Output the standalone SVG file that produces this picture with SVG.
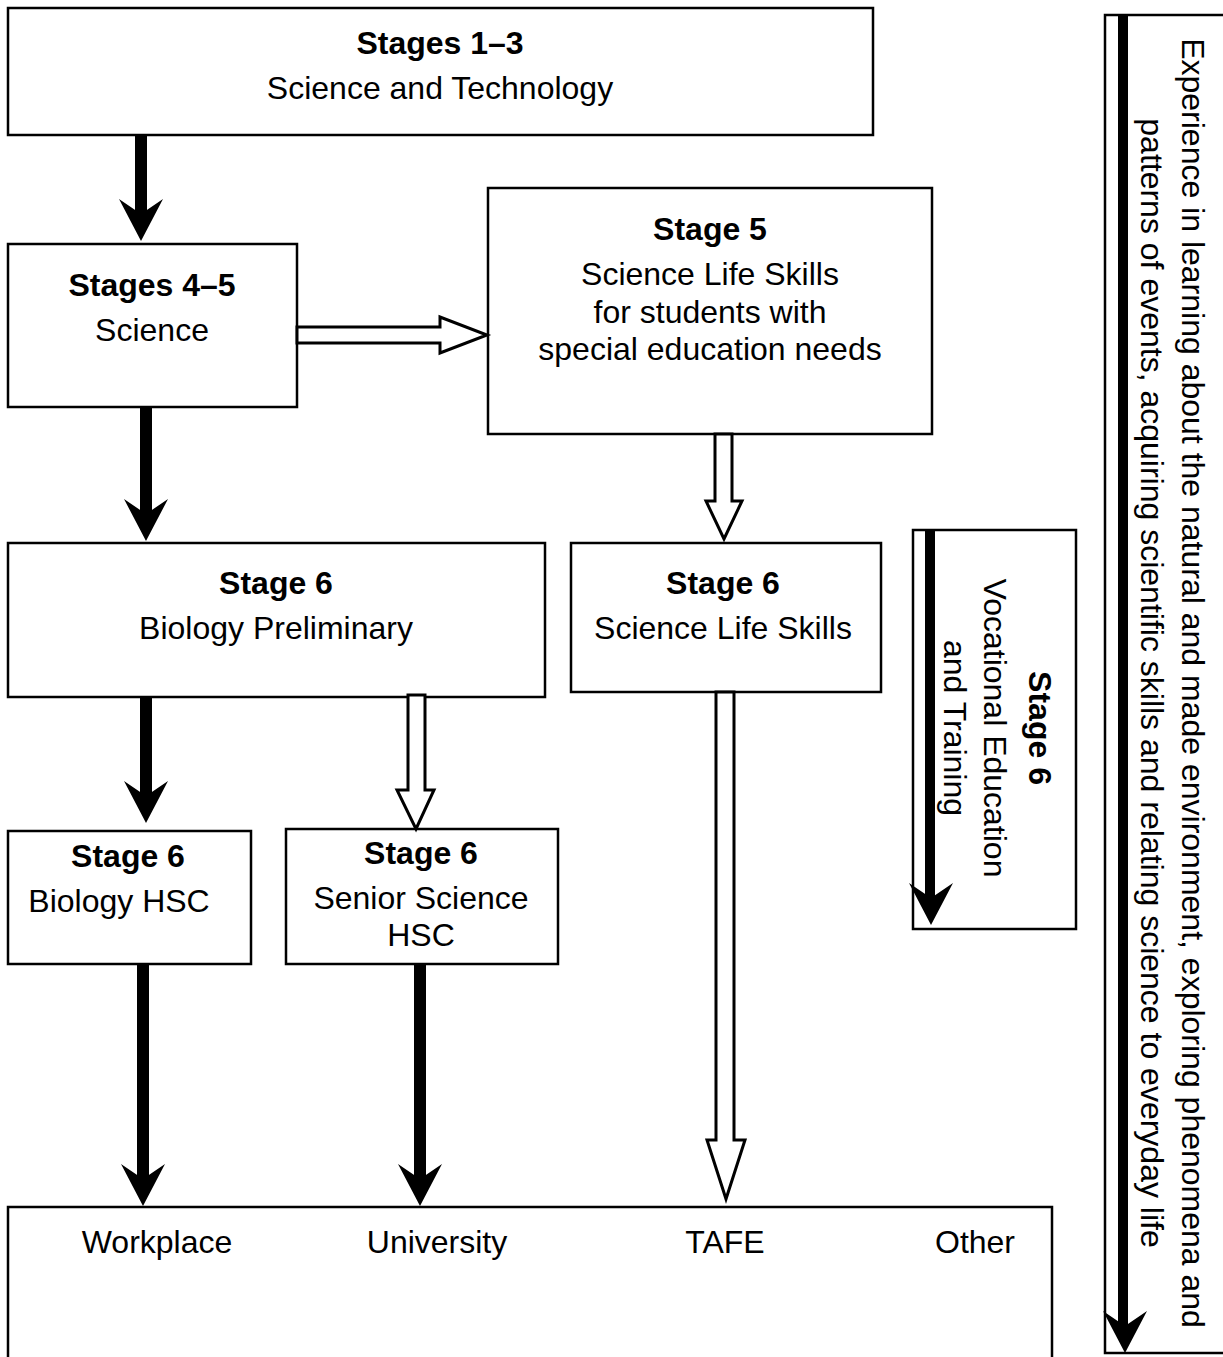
<svg xmlns="http://www.w3.org/2000/svg" width="1223" height="1357" viewBox="0 0 1223 1357">
<style>
.box{fill:#fff;stroke:#000;stroke-width:2.5}
.t{font-family:"Liberation Sans",Arial,sans-serif;font-size:32px;fill:#000;text-anchor:middle}
.b{font-weight:bold}
.hol{fill:#fff;stroke:#000;stroke-width:3;stroke-linejoin:miter}
.blk{fill:#000}
</style>
<defs>
<path id="bh" d="M0,0 L-22,-42 L0,-27 L22,-42 Z"/>
</defs>
<rect width="1223" height="1357" fill="#fff"/>

<g id="n-stages13"><rect class="box" x="8" y="8" width="865" height="127"/>
<text class="t b" x="440" y="54">Stages 1–3</text>
<text class="t" x="440" y="99">Science and Technology</text></g>

<g id="n-stages45"><rect class="box" x="8" y="244" width="289" height="163"/>
<text class="t b" x="152" y="296">Stages 4–5</text>
<text class="t" x="152" y="341">Science</text></g>

<g id="n-stage5"><rect class="box" x="488" y="188" width="444" height="246"/>
<text class="t b" x="710" y="240">Stage 5</text>
<text class="t" x="710" y="285">Science Life Skills</text>
<text class="t" x="710" y="323">for students with</text>
<text class="t" x="710" y="360">special education needs</text></g>

<g id="n-bioprelim"><rect class="box" x="8" y="543" width="537" height="154"/>
<text class="t b" x="276" y="594">Stage 6</text>
<text class="t" x="276" y="639">Biology Preliminary</text></g>

<g id="n-sls6"><rect class="box" x="571" y="543" width="310" height="149"/>
<text class="t b" x="723" y="594">Stage 6</text>
<text class="t" x="723" y="639">Science Life Skills</text></g>

<g id="n-biohsc"><rect class="box" x="8" y="831" width="243" height="133"/>
<text class="t b" x="128" y="867">Stage 6</text>
<text class="t" x="119" y="912">Biology HSC</text></g>

<g id="n-senior"><rect class="box" x="286" y="829" width="272" height="135"/>
<text class="t b" x="421" y="864">Stage 6</text>
<text class="t" x="421" y="909">Senior Science</text>
<text class="t" x="421" y="946">HSC</text></g>

<g id="n-vet"><rect class="box" x="913" y="530" width="163" height="399"/>
<g transform="translate(1029,728) rotate(90)"><text class="t b" x="0" y="0">Stage 6</text></g>
<g transform="translate(984,728) rotate(90)"><text class="t" x="0" y="0">Vocational Education</text></g>
<g transform="translate(944,728) rotate(90)"><text class="t" x="0" y="0">and Training</text></g></g>

<g id="n-dest"><rect class="box" x="8" y="1207" width="1044" height="200"/>
<text class="t" x="157" y="1253">Workplace</text>
<text class="t" x="437" y="1253">University</text>
<text class="t" x="725" y="1253">TAFE</text>
<text class="t" x="975" y="1253">Other</text></g>

<g id="n-experience"><rect class="box" x="1105" y="15" width="200" height="1338"/>
<g transform="translate(1182,683) rotate(90)"><text class="t" x="0" y="0">Experience in learning about the natural and made environment, exploring phenomena and</text></g>
<g transform="translate(1141,683) rotate(90)"><text class="t" x="0" y="0">patterns of events, acquiring scientific skills and relating science to everyday life</text></g></g>

<g id="connectors">
<rect class="blk" x="135" y="135" width="12" height="80"/>
<use href="#bh" transform="translate(141,241)"/>
<rect class="blk" x="140" y="407" width="12" height="110"/>
<use href="#bh" transform="translate(146,541)"/>
<rect class="blk" x="140" y="697" width="12" height="100"/>
<use href="#bh" transform="translate(146,823)"/>
<rect class="blk" x="137" y="964" width="12" height="215"/>
<use href="#bh" transform="translate(143,1206)"/>
<rect class="blk" x="414" y="964" width="12" height="215"/>
<use href="#bh" transform="translate(420,1206)"/>
<rect class="blk" x="925" y="530" width="10" height="370"/>
<use href="#bh" transform="translate(931,925)"/>
<rect class="blk" x="1118" y="15" width="10" height="1315"/>
<use href="#bh" transform="translate(1125,1353)"/>
<path class="hol" d="M297,327 L440,327 L440,317 L487,335 L440,353 L440,343 L297,343 Z"/>
<path class="hol" d="M715,434 L715,501 L706,501 L724,539 L742,501 L732,501 L732,434 Z"/>
<path class="hol" d="M408,695 L408,790 L397,790 L416,829 L434,790 L425,790 L425,695 Z"/>
<path class="hol" d="M716,692 L716,1140 L707,1140 L726,1199 L745,1140 L734,1140 L734,692 Z"/>
</g>
</svg>
